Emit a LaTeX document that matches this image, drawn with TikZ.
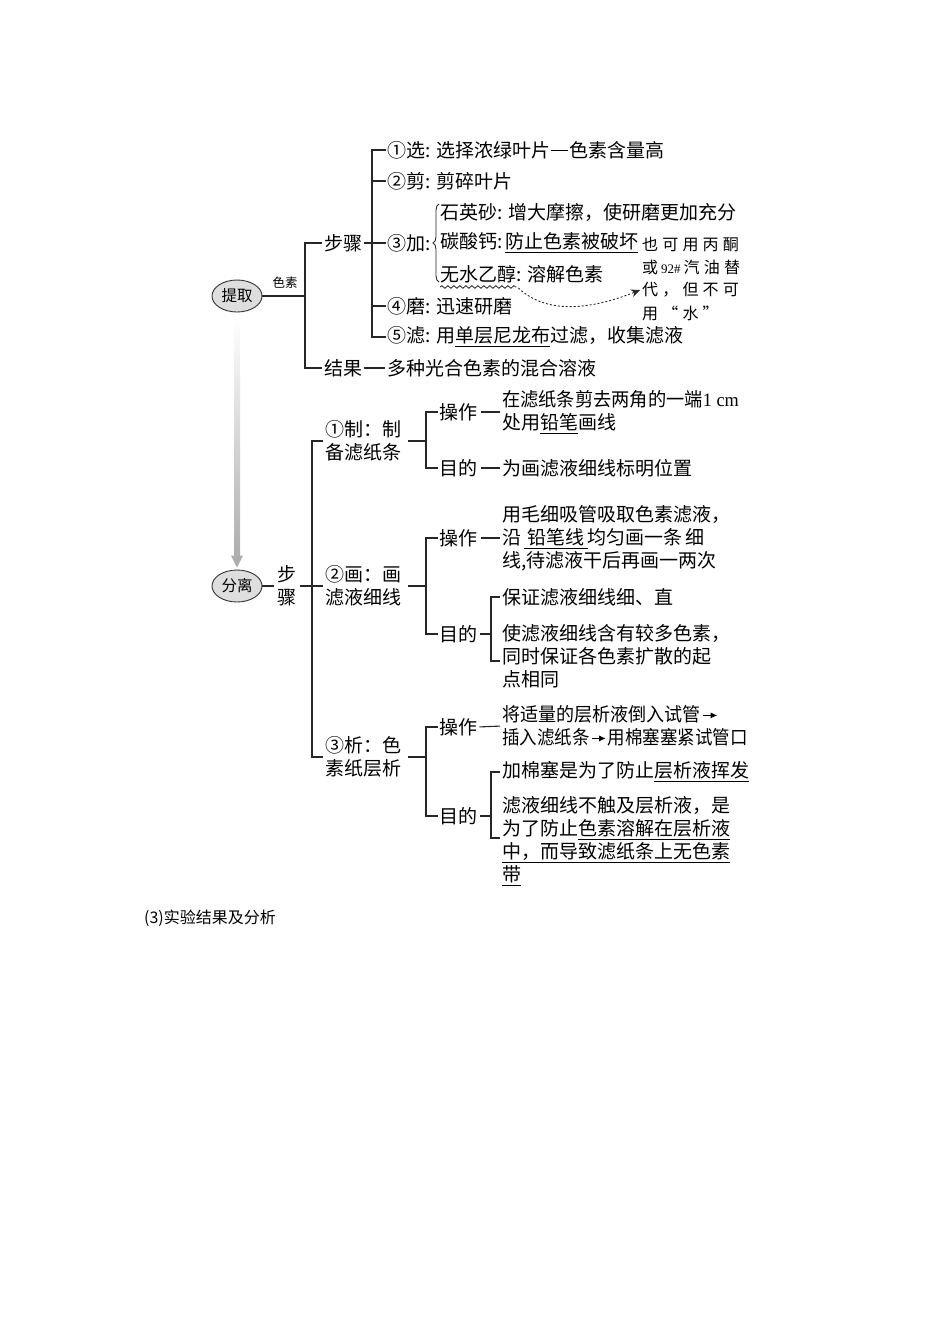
\documentclass[tikz,border=0pt]{standalone}
\usepackage{fontspec}
\setmainfont{Noto Sans CJK SC}
\newfontfamily\notefont[LetterSpace=26]{Noto Sans CJK SC}
\newfontfamily\latfont{Liberation Serif}
\usetikzlibrary{shapes.geometric,decorations.pathreplacing,decorations.pathmorphing,arrows.meta,calc}
\newcommand\mfs{\fontsize{19}{23}\selectfont}
\newsavebox\ulbox
\newcommand\myul[1]{\sbox\ulbox{#1}\rlap{\rule[-4.5pt]{\wd\ulbox}{0.9pt}}\usebox\ulbox}
\newcommand\longdash{\kern1pt\rule[6.3pt]{17pt}{0.9pt}\kern1pt}
\newcommand\harr{\kern2pt\tikz[baseline=0pt]\draw[line width=0.9pt,-{Latex[length=7pt,width=6pt]}] (0pt,6.3pt) -- (15pt,6.3pt);\kern2pt}
\tikzset{
  txt/.style={inner sep=0pt, anchor=west, font=\mfs, align=left},
  ln/.style={line width=1.1pt, draw=black!85},
  ell/.style={ellipse, draw=black!80, line width=0.9pt, fill=black!13, minimum width=50pt, minimum height=32pt, inner sep=0pt, font=\fontsize{15.5}{15.5}\selectfont},
  note/.style={inner sep=0pt, anchor=west, font=\notefont\fontsize{16}{16}\selectfont},
}
\begin{document}
\begin{tikzpicture}[x=1pt,y=-1pt]
\useasboundingbox (0,0) rectangle (950,1344);

% ---------- upper: 提取 ----------
\node[ell] (ti) at (237,296) {提取};
\node[inner sep=0pt, font=\fontsize{12.5}{12.5}\selectfont] (sesu) at (285,283) {色素};
\coordinate (vx1) at (305,0);
\node[txt] (bz) at (324,243) {步骤};
\node[txt] (jg) at (324,368) {结果};
\node[txt] (jgt) at (387,368) {多种光合色素的混合溶液};
\draw[ln] (ti.east) -- (ti.east -| vx1);
\draw[ln] ([xshift=-2pt]bz.west) -- (bz.west -| vx1) -- (jg.west -| vx1) -- ([xshift=-2pt]jg.west);
\draw[ln, shorten <=2pt, shorten >=2pt] (jg.east) -- (jgt.west);

\coordinate (vx2) at (372,0);
\node[txt] (s1) at (387,150) {①选: 选择浓绿叶片\longdash 色素含量高};
\node[txt] (s2) at (387,181) {②剪: 剪碎叶片};
\node[txt] (s3) at (387,243) {③加:};
\node[txt] (s4) at (387,306) {④磨: 迅速研磨};
\node[txt] (s5) at (387,337) {⑤滤: 用\myul{单层尼龙布}过滤，收集滤液};
\draw[ln] ([xshift=-1pt]s1.west) -- (s1.west -| vx2) -- (s5.west -| vx2) -- ([xshift=-1pt]s5.west);
\draw[ln] (s2.west -| vx2) -- ([xshift=-1pt]s2.west);
\draw[ln] (s4.west -| vx2) -- ([xshift=-1pt]s4.west);
\draw[ln, shorten <=2pt] (bz.east) -- ([xshift=-1pt]s3.west);

\node[txt] (a1) at (440,212) {石英砂: 增大摩擦，使研磨更加充分};
\node[txt] (a2) at (440,243) {碳酸钙:\hspace{3pt}\myul{防止色素被破坏}};
\node[txt] (a3a) at (440,274) {无水乙醇};
\node[txt, anchor=base west] (a3b) at (a3a.base east) {: 溶解色素};
\draw[line width=0.9pt, black!85, decorate, decoration={brace, amplitude=6pt}]
  ($(a3a.west)+(-1,8)$) -- ($(a1.west)+(-1,-8)$);
\draw[line width=0.8pt, black!85, decorate, decoration={snake, amplitude=1.3pt, segment length=6pt}]
  ($(a3a.south west)+(0,4)$) -- ($(a3a.south east)+(0,4)$);

\node[note] (n1) at (642,244) {也可用丙酮};
\node[note] (n2) at (642,267) {或\hspace{3pt}{\latfont\fontsize{13}{13}\selectfont 92\#}\hspace{3pt}汽油替};
\node[note] (n3) at (642,290) {代，但不可};
\node[note] (n4) at (642,313) {用“水”};
\draw[line width=0.9pt, black!85, dash pattern=on 2pt off 2pt, -{Stealth[length=9pt,width=8pt]}]
  ($(a3a.south east)+(2,5)$) .. controls (550,318) and (600,306) .. ($(n3.west)+(-2,0)$);

% ---------- lower: 分离 ----------
\node[ell] (fl) at (237,586) {分离};

% ---------- gray arrow ----------
\shade[top color=white, bottom color=black!32] ($(ti.south)+(-3,6)$) rectangle ($(fl.north)+(3,-12)$);
\fill[black!32] ($(fl.north)+(-6,-14)$) -- ($(fl.north)+(6,-14)$) -- ($(fl.north)+(0,-2)$) -- cycle;

\node[txt, anchor=center, align=center] (bz2) at (287,586) {步\\骤};
\draw[ln, shorten >=3pt] (fl.east) -- (bz2.west);
\coordinate (vx3) at (312,0);
\node[txt] (w1) at (325,441) {①制：制\\备滤纸条};
\node[txt] (w2) at (325,586) {②画：画\\滤液细线};
\node[txt] (w3) at (325,757) {③析：色\\素纸层析};
\draw[ln] ([xshift=-2pt]w1.west) -- (w1.west -| vx3) -- (w3.west -| vx3) -- ([xshift=-2pt]w3.west);
\draw[ln, shorten <=3pt, shorten >=2pt] (bz2.east) -- (w2.west);

\coordinate (vx4) at (426,0);
\coordinate (vx5) at (491,0);
% ① 制
\node[txt] (o1) at (439,412) {操作};
\node[txt] (o1t) at (502,412) {\scalebox{0.96}[1]{在滤纸条剪去两角的一端{\latfont 1 cm}}\\处用\myul{铅笔}画线};
\node[txt] (d1) at (439,468) {目的};
\node[txt] (d1t) at (502,468) {为画滤液细线标明位置};
\draw[ln] ([xshift=7pt]w1.east) -- (w1.east -| vx4);
\draw[ln] ([xshift=-1pt]o1.west) -- (o1.west -| vx4) -- (d1.west -| vx4) -- ([xshift=-1pt]d1.west);
\draw[ln, shorten <=4pt, shorten >=2pt] (o1.east) -- (o1t.west);
\draw[ln, shorten <=4pt, shorten >=2pt] (d1.east) -- (d1t.west);

% ② 画
\node[txt] (o2) at (439,538) {操作};
\node[txt] (o2t) at (502,538) {用毛细吸管吸取色素滤液，\\沿\,\myul{\,铅笔线\,}均匀画一条\,细\\线,待滤液干后再画一两次};
\node[txt] (d2) at (439,634) {目的};
\node[txt] (p21) at (502,597) {保证滤液细线细、直};
\node[txt] (p22) at (502,656) {使滤液细线含有较多色素，\\同时保证各色素扩散的起\\点相同};
\draw[ln] ([xshift=7pt]w2.east) -- (w2.east -| vx4);
\draw[ln] ([xshift=-1pt]o2.west) -- (o2.west -| vx4) -- (d2.west -| vx4) -- ([xshift=-1pt]d2.west);
\draw[ln, shorten <=4pt, shorten >=2pt] (o2.east) -- (o2t.west);
\draw[ln, shorten <=3pt] (d2.east) -- (d2.east -| vx5);
\draw[ln] ([xshift=-2pt]p21.west) -- (p21.west -| vx5) -- ($(p22.west -| vx5)+(0,5)$) -- ($(p22.west)+(-2,5)$);

% ③ 析
\node[txt] (o3) at (439,727) {操作};
\node[txt] (o3t) at (502,726) {\scalebox{0.95}[1]{将适量的层析液倒入试管\harr}\\\scalebox{0.92}[1]{插入滤纸条\harr 用棉塞塞紧试管口}};
\node[txt] (d3) at (439,816) {目的};
\node[txt] (p31) at (502,772) {加棉塞是为了防止\myul{层析液挥发}};
\node[txt] (p32) at (502,841) {滤液细线不触及层析液，是\\为了防止\myul{色素溶解在层析液}\\\myul{中，而导致滤纸条上无色素}\\\myul{带}};
\draw[ln] ([xshift=7pt]w3.east) -- (w3.east -| vx4);
\draw[ln] ([xshift=-1pt]o3.west) -- (o3.west -| vx4) -- (d3.west -| vx4) -- ([xshift=-1pt]d3.west);
\draw[ln, shorten <=2pt, shorten >=2pt] (o3.east) -- (o3t.west);
\draw[ln, shorten <=3pt] (d3.east) -- (d3.east -| vx5);
\draw[ln] ([xshift=-2pt]p31.west) -- (p31.west -| vx5) -- ($(p32.west -| vx5)+(0,-3)$) -- ($(p32.west)+(-2,-3)$);

% ---------- caption ----------
\node[inner sep=0pt, anchor=west, font=\fontsize{16}{16}\selectfont] (cap) at (144,918) {(3)实验结果及分析};
\end{tikzpicture}
\end{document}
